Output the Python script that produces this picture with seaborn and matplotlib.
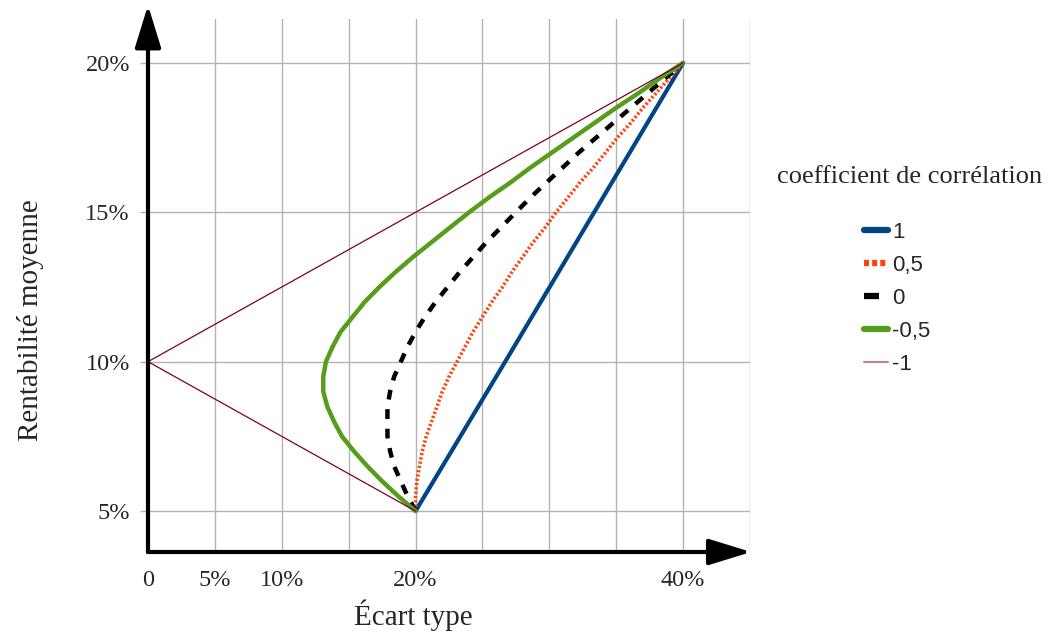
import pandas as pd
import seaborn as sns
import matplotlib.pyplot as plt
from matplotlib.lines import Line2D

# rentabilité moyenne (%) lue sur l'axe vertical, pas de 0,5 %
rentab = [5, 5.5, 6, 6.5, 7, 7.5, 8, 8.5, 9, 9.5, 10, 10.5, 11, 11.5, 12, 12.5,
          13, 13.5, 14, 14.5, 15, 15.5, 16, 16.5, 17, 17.5, 18, 18.5, 19, 19.5, 20]

# écart type (%) lu sur chaque courbe
ecart_p05 = [20, 20.0, 20.1, 20.3, 20.5, 20.8, 21.2, 21.6, 22.0, 22.5, 23.1, 23.7, 24.3, 25.0, 25.7, 26.5,
             27.2, 28.0, 28.8, 29.7, 30.5, 31.4, 32.3, 33.3, 34.2, 35.1, 36.1, 37.0, 38.0, 39.0, 40]
ecart_0 = [20, 19.4, 18.9, 18.4, 18.1, 17.9, 17.9, 17.9, 18.1, 18.4, 18.9, 19.4, 20.0, 20.7, 21.5, 22.4,
           23.3, 24.3, 25.3, 26.4, 27.5, 28.6, 29.8, 31.0, 32.2, 33.5, 34.8, 36.1, 37.4, 38.7, 40]
ecart_m05 = [20, 18.7, 17.5, 16.4, 15.4, 14.5, 13.9, 13.4, 13.1, 13.1, 13.3, 13.8, 14.4, 15.3, 16.2, 17.3,
             18.5, 19.8, 21.2, 22.6, 24.0, 25.5, 27.1, 28.6, 30.2, 31.8, 33.4, 35.0, 36.7, 38.3, 40]

# droites (corrélation 1 et -1)
rentab_p1 = [5, 10, 20]
ecart_p1 = [20, 26.7, 40]
rentab_m1 = [5, 10, 20]
ecart_m1 = [20, 0, 40]

labels = ['1', '0,5', '0', '-0,5', '-1']
x_ticks = [0, 5, 10, 20, 40]
x_ticklabels = ['0', '5%', '10%', '20%', '40%']
y_ticks = [5, 10, 15, 20]
y_ticklabels = ['5%', '10%', '15%', '20%']

sns.set_theme(style='white')
plt.rcParams['font.family'] = ['Liberation Serif', 'DejaVu Serif']

W, H = 1052, 640
fig = plt.figure(figsize=(W / 100, H / 100), dpi=100)
ax = fig.add_axes([148 / W, 1 - 552 / H, 602 / W, 533 / H])

series = [
    (ecart_p1, rentab_p1, '#004586', 3.0, '-'),
    (ecart_p05, rentab, '#ff420e', 2.6, (0, (0.6, 0.6))),
    (ecart_0, rentab, 'black', 3.2, (0, (2.2, 2.2))),
    (ecart_m05, rentab, '#579d1c', 3.2, '-'),
    (ecart_m1, rentab_m1, '#7e0021', 0.9, '-'),
]
for (x, y, c, lw, ls), lab in zip(series, labels):
    sns.lineplot(x=x, y=y, sort=False, estimator=None, color=c, lw=lw, ax=ax)
    ax.get_lines()[-1].set_linestyle(ls)

ax.set_xlim(0, 45)
ax.set_ylim(3.63, 21.47)

ax.set_xticks(x_ticks)
ax.set_xticklabels(x_ticklabels)
ax.set_xticks([15, 25, 30, 35, 45], minor=True)
ax.set_yticks(y_ticks)
ax.set_yticklabels(y_ticklabels)
ax.grid(which='both', color='#b3b3b3', lw=1)
ax.set_axisbelow(True)
ax.tick_params(axis='x', which='both', length=0, pad=13, labelsize=17.5)
ax.tick_params(axis='y', length=6, width=1, color='#b3b3b3', pad=7, labelsize=17.5, left=True)
for s in ax.spines.values():
    s.set_visible(False)

# axes fléchés
arrow = dict(arrowstyle='-|>,head_length=1.3,head_width=0.4', lw=3, color='black',
             mutation_scale=20, shrinkA=0, shrinkB=0)
ax.annotate('', xy=(0, 1.026), xytext=(0, 0), xycoords='axes fraction', arrowprops=arrow)
ax.annotate('', xy=(1.002, 0), xytext=(0, 0), xycoords='axes fraction', arrowprops=arrow)

ax.set_xlabel('Écart type', fontsize=21)
ax.xaxis.set_label_coords(0.44, -0.09)
ax.set_ylabel('Rentabilité moyenne', fontsize=21)
ax.yaxis.set_label_coords(-0.172, 0.435)

handles = [
    Line2D([], [], color='#004586', lw=4.5),
    Line2D([], [], color='#ff420e', lw=4.5, linestyle=(0, (0.8, 0.5))),
    Line2D([], [], color='black', lw=4.5, linestyle=(0, (2.4, 10))),
    Line2D([], [], color='#579d1c', lw=4.5),
    Line2D([], [], color='#c08090', lw=1.5),
]
fig.legend(handles, labels, loc='upper left', bbox_to_anchor=(853 / W, 1 - 211 / H),
           frameon=False, prop={'family': 'Liberation Sans', 'size': 16},
           handlelength=1.08, handletextpad=0.18, labelspacing=0.54, borderpad=0)
fig.text(777 / W, 1 - 177 / H, 'coefficient de corrélation', fontsize=19, va='center', ha='left')

fig.savefig('out.png', dpi=100)
